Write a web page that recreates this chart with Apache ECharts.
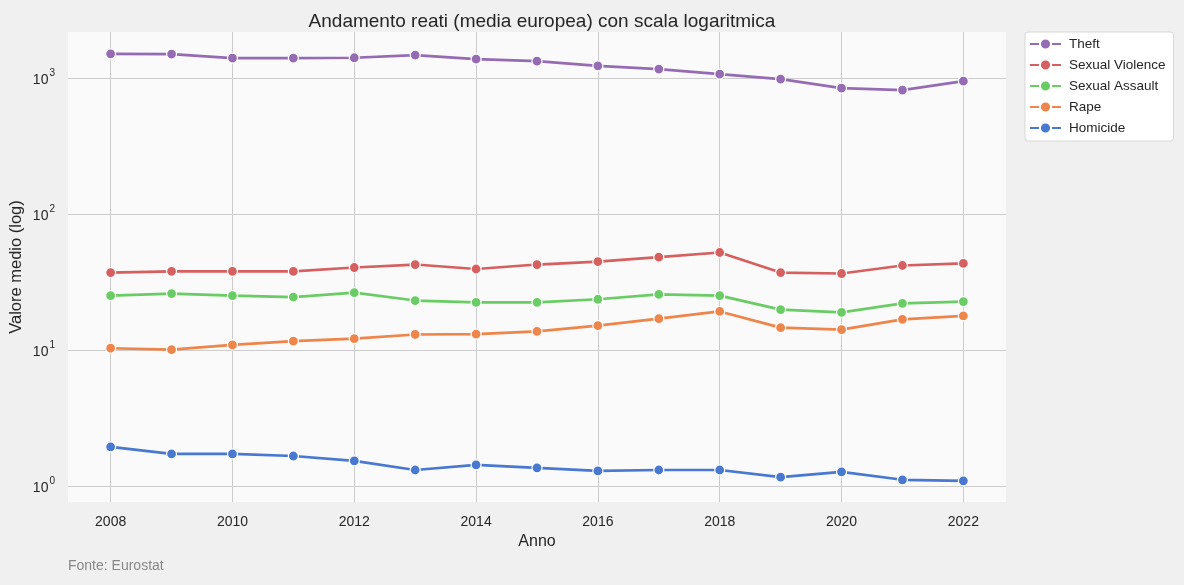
<!DOCTYPE html>
<html>
<head>
<meta charset="utf-8">
<script src="https://cdn.jsdelivr.net/npm/echarts@6/dist/echarts.min.js"></script>
<style>
html,body{margin:0;padding:0;background:#f0f0f0;}
#chart{width:1184px;height:585px;}
</style>
</head>
<body>
<div id="chart"></div>
<script>
const years = [2008,2009,2010,2011,2012,2013,2014,2015,2016,2017,2018,2019,2020,2021,2022];
const theft = [1507,1500,1402,1402,1409,1475,1378,1331,1230,1164,1069,982,843,815,948];
const sexualViolence = [37.1,37.9,37.9,37.8,40.4,42.5,39.4,42.5,44.7,48.1,52.1,37.1,36.5,41.8,43.3];
const sexualAssault = [25.1,26.0,25.1,24.5,26.4,23.1,22.4,22.4,23.6,25.6,25.1,19.8,18.9,22.0,22.7];
const rape = [10.3,10.05,10.9,11.6,12.1,13.0,13.1,13.7,15.1,17.0,19.2,14.6,14.1,16.8,17.8];
const homicide = [1.94,1.72,1.72,1.66,1.53,1.31,1.43,1.36,1.29,1.31,1.31,1.16,1.27,1.11,1.09];
const xTicks = [2008,2010,2012,2014,2016,2018,2020,2022];
const yTicks = [1,10,100,1000];

const seriesDefs = [
  {name:'Theft', data:theft, color:'#956cb4'},
  {name:'Sexual Violence', data:sexualViolence, color:'#d65f5f'},
  {name:'Sexual Assault', data:sexualAssault, color:'#6acc64'},
  {name:'Rape', data:rape, color:'#ee854a'},
  {name:'Homicide', data:homicide, color:'#4878d0'}
];

const font = "'Liberation Sans', Arial, sans-serif";
const chart = echarts.init(document.getElementById('chart'));
chart.setOption({
  backgroundColor:'#f0f0f0',
  animation:false,
  textStyle:{fontFamily:font},
  title:{
    text:'Andamento reati (media europea) con scala logaritmica',
    left:537, top:7, textAlign:'center',
    textStyle:{fontSize:19, fontWeight:'normal', color:'#262626', fontFamily:font}
  },
  graphic:[{
    type:'text', left:68, top:559,
    style:{text:'Fonte: Eurostat', fill:'#888888', fontSize:14, fontFamily:font}
  },{
    type:'text', x:16, y:267, rotation:Math.PI/2,
    style:{text:'Valore medio (log)', fill:'#262626', fontSize:16.5, fontFamily:font, align:'center', verticalAlign:'middle'}
  }],
  legend:{
    orient:'vertical', left:1025, top:32,
    backgroundColor:'#ffffff', borderColor:'#d8d8d8', borderWidth:1, borderRadius:3,
    padding:[5,8,6,4], itemGap:7, itemWidth:31, itemHeight:14,
    textStyle:{fontSize:13.5, color:'#262626', fontFamily:font, padding:[0,0,0,3]},
    data:seriesDefs.map(s=>s.name)
  },
  grid:{left:68, top:32, right:178, bottom:83, show:true, backgroundColor:'#fafafa', borderWidth:0, containLabel:false, outerBoundsMode:'none'},
  xAxis:{
    type:'value', min:2007.3, max:2022.7,
    name:'Anno', nameLocation:'middle', nameGap:32,
    nameTextStyle:{fontSize:16, color:'#262626'},
    axisLine:{show:false}, axisTick:{show:false, customValues:xTicks},
    axisLabel:{customValues:xTicks, fontSize:14, color:'#262626', margin:13, formatter:function(v){return String(v);}},
    splitLine:{show:true, lineStyle:{color:'#cccccc', width:1}}
  },
  yAxis:{
    type:'log', logBase:10, min:0.762, max:2180,
    axisLine:{show:false}, axisTick:{show:false, customValues:yTicks},
    axisLabel:{
      customValues:yTicks, color:'#262626', margin:13,
      formatter:function(v){ return '{a|10}{b|' + Math.round(Math.log10(v)) + '}'; },
      rich:{a:{fontSize:14, color:'#262626', padding:[5,0,0,0]}, b:{fontSize:10, color:'#262626', verticalAlign:'top', padding:[0,0,8,1]}}
    },
    splitLine:{show:true, lineStyle:{color:'#cccccc', width:1}},
    minorSplitLine:{show:false}
  },
  series:seriesDefs.map(s=>({
    name:s.name, type:'line',
    data:years.map((y,i)=>[y, s.data[i]]),
    color:s.color,
    lineStyle:{width:2.7, color:s.color},
    symbol:'circle', symbolSize:10,
    itemStyle:{color:s.color, borderColor:'#ffffff', borderWidth:1.2},
    emphasis:{disabled:true}
  }))
});
</script>
</body>
</html>
